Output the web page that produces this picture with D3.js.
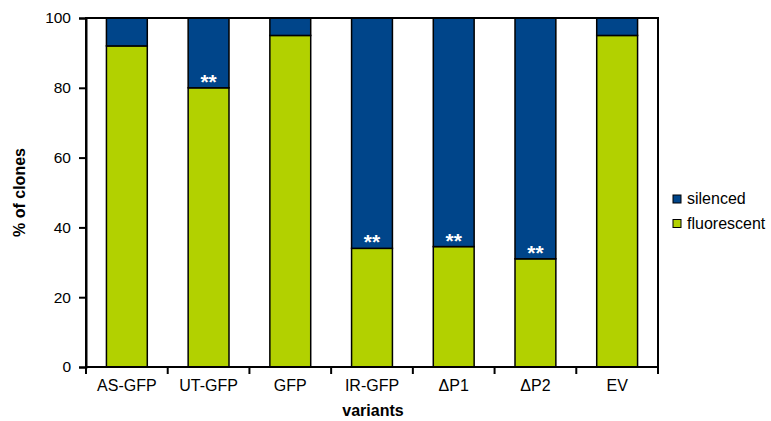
<!DOCTYPE html>
<html>
<head>
<meta charset="utf-8">
<script src="https://cdn.jsdelivr.net/npm/d3@7"></script>
<style>
  html, body { margin: 0; padding: 0; background: #fff; }
  svg text { font-family: "Liberation Sans", Arial, sans-serif; }
</style>
</head>
<body>
<svg id="chart" width="771" height="421"></svg>
<script>
// Share of clones per construct that stayed fluorescent vs. were silenced
const variants = ["AS-GFP", "UT-GFP", "GFP", "IR-GFP", "ΔP1", "ΔP2", "EV"];
const fluorescent = [92, 80, 95, 34, 34.5, 31, 95];
const silenced = fluorescent.map(v => 100 - v);
const significant = [false, true, false, true, true, true, false];
const yTicks = [0, 20, 40, 60, 80, 100];
const seriesNames = ["silenced", "fluorescent"];
const seriesColors = { silenced: "#00458A", fluorescent: "#B2D100" };

const svg = d3.select("#chart");
const m = { left: 86, top: 18, right: 658, bottom: 367 };

const x = d3.scaleBand().domain(variants).range([m.left, m.right]).paddingInner(0.5).paddingOuter(0.25);
const xTickScale = d3.scaleBand().domain(variants).range([m.left, m.right]);
const y = d3.scaleLinear().domain([0, 100]).range([m.bottom, m.top]);

const rows = variants.map((v, i) => ({ variant: v, fluorescent: fluorescent[i], silenced: silenced[i], sig: significant[i] }));
const stacked = d3.stack().keys(["fluorescent", "silenced"])(rows);

// stacked bars
svg.append("g").selectAll("g").data(stacked).join("g")
  .attr("fill", d => seriesColors[d.key])
  .selectAll("rect").data(d => d).join("rect")
  .attr("x", d => x(d.data.variant))
  .attr("width", x.bandwidth())
  .attr("y", d => y(d[1]))
  .attr("height", d => y(d[0]) - y(d[1]))
  .attr("stroke", "#000")
  .attr("stroke-width", 1.5);

// significance marks
svg.append("g").selectAll("text").data(rows.filter(r => r.sig)).join("text")
  .attr("x", d => x(d.variant) + x.bandwidth() / 2)
  .attr("y", d => y(d.fluorescent) + 1)
  .attr("text-anchor", "middle")
  .attr("fill", "#fff")
  .attr("font-size", 21)
  .attr("font-weight", "bold")
  .text("**");

// plot frame
svg.append("rect")
  .attr("x", m.left).attr("y", m.top)
  .attr("width", m.right - m.left).attr("height", m.bottom - m.top)
  .attr("fill", "none").attr("stroke", "#000").attr("stroke-width", 2);

// y axis
const yAxis = svg.append("g").attr("transform", `translate(${m.left},0)`)
  .call(d3.axisLeft(y).tickValues(yTicks).tickSize(7).tickPadding(8));
yAxis.select(".domain").attr("stroke-width", 2);
yAxis.selectAll(".tick line").attr("stroke-width", 2);
yAxis.selectAll("text").attr("font-size", 15.5).attr("fill", "#000");

// x axis with ticks at category boundaries
const xAxis = svg.append("g").attr("transform", `translate(0,${m.bottom})`)
  .call(d3.axisBottom(x).tickSize(0).tickPadding(13));
xAxis.select(".domain").remove();
xAxis.selectAll("text").attr("font-size", 16).attr("fill", "#000");
const bounds = variants.map(v => xTickScale(v)).concat([m.right]);
svg.append("g").selectAll("line").data(bounds).join("line")
  .attr("x1", d => d).attr("x2", d => d)
  .attr("y1", m.bottom).attr("y2", m.bottom + 7)
  .attr("stroke", "#000").attr("stroke-width", 2);

// axis titles
svg.append("text")
  .attr("x", 373).attr("y", 416)
  .attr("text-anchor", "middle").attr("font-size", 16).attr("font-weight", "bold")
  .text("variants");
svg.append("text")
  .attr("transform", `translate(25,${(m.top + m.bottom) / 2}) rotate(-90)`)
  .attr("text-anchor", "middle").attr("font-size", 16).attr("font-weight", "bold")
  .text("% of clones");

// legend
const legend = svg.append("g").selectAll("g").data(seriesNames).join("g")
  .attr("transform", (d, i) => `translate(673,${195 + i * 24.5})`);
legend.append("rect")
  .attr("width", 8).attr("height", 8)
  .attr("fill", d => seriesColors[d]).attr("stroke", "#000").attr("stroke-width", 1);
legend.append("text")
  .attr("x", 14).attr("y", 9)
  .attr("font-size", 16).attr("fill", "#000")
  .text(d => d);
</script>
</body>
</html>
